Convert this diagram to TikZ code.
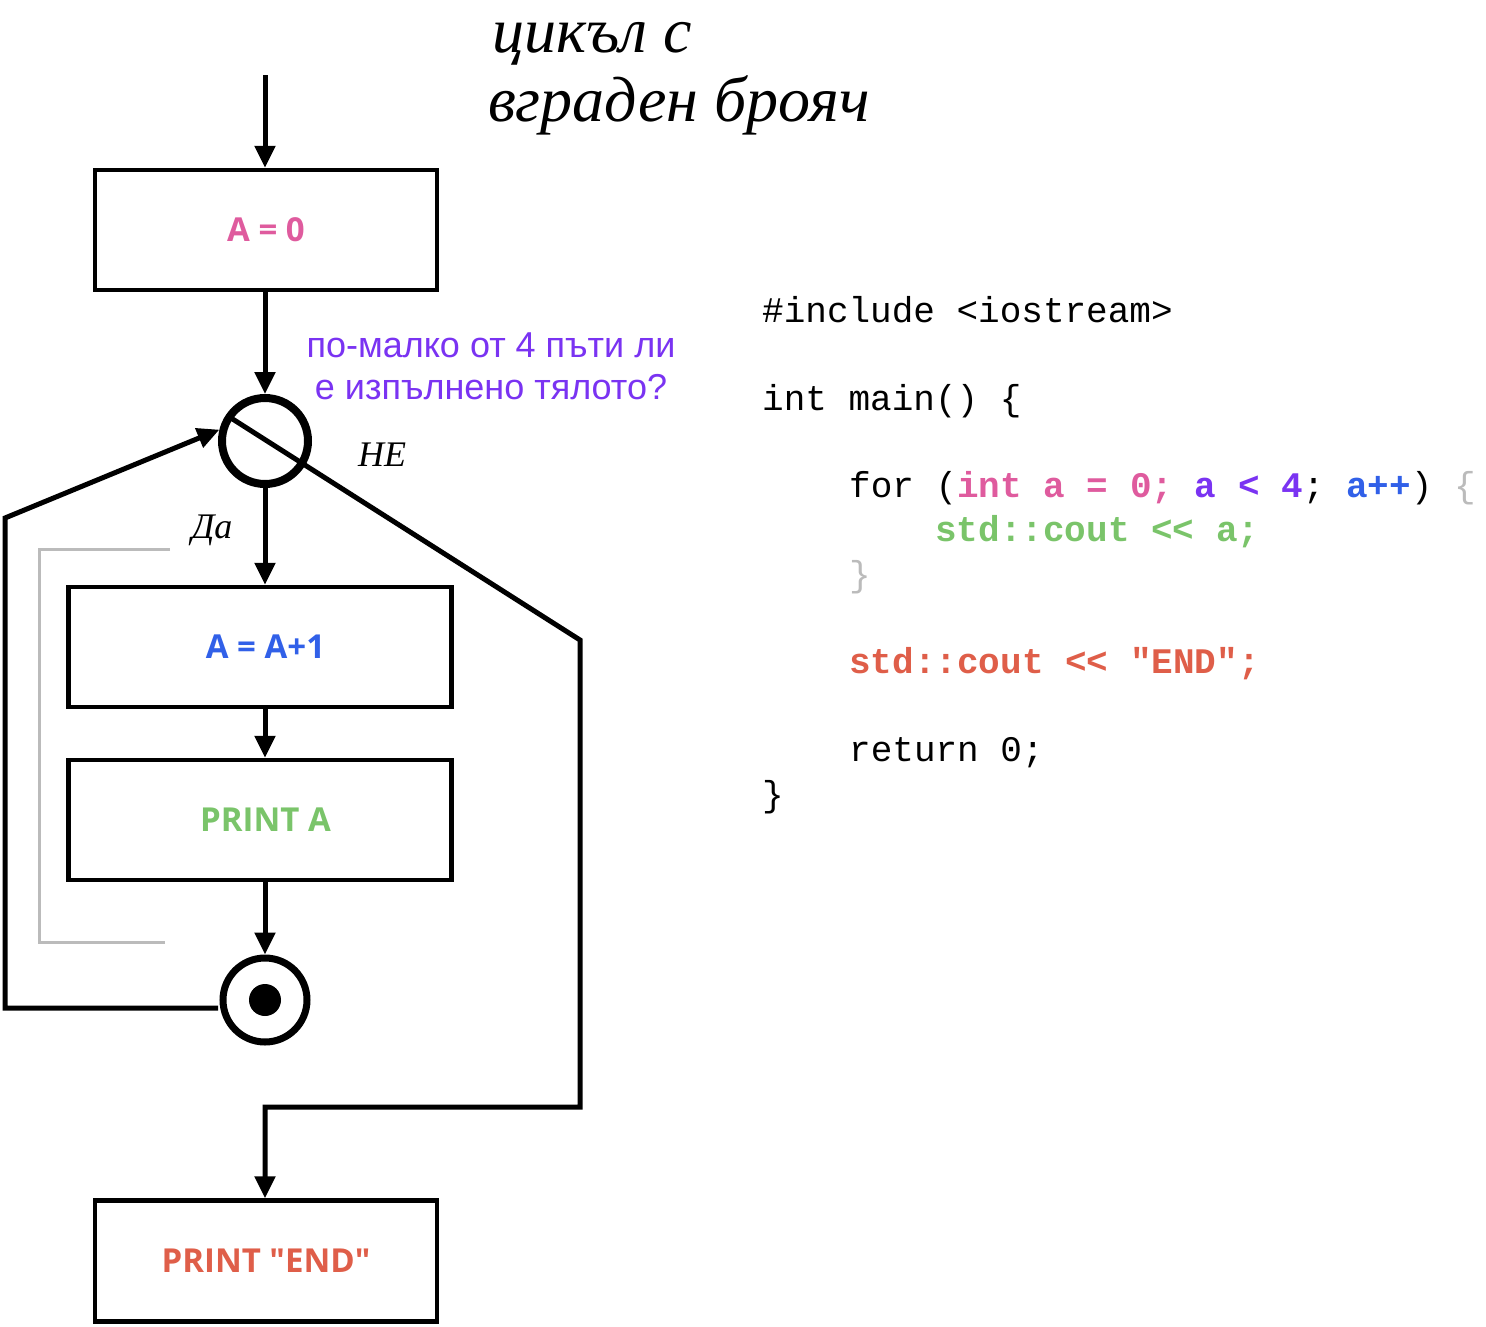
\documentclass[tikz,border=0pt]{standalone}
\usepackage{fontspec}
\setmainfont{Open Sans}
\setmonofont{Liberation Mono}
\newfontfamily\handfont{Liberation Serif}
\newfontfamily\labelfont{Liberation Sans}
\usetikzlibrary{arrows.meta,calc}

\definecolor{pinkA}{HTML}{DF5B9E}
\definecolor{blueA}{HTML}{3160E8}
\definecolor{greenA}{HTML}{7AC46A}
\definecolor{redA}{HTML}{DF5E49}
\definecolor{purpleA}{HTML}{7A33F2}
\definecolor{grayA}{HTML}{BBBBBB}

\begin{document}
\begin{tikzpicture}[x=1pt,y=-1pt,
  flowbox/.style={draw, line width=4.5pt, inner sep=0pt,
    font=\fontsize{33}{38}\selectfont\bfseries},
  conn/.style={line width=5pt, -{Triangle[length=22pt,width=20pt]}},
  hand/.style={font=\handfont\itshape\fontsize{36}{40}\selectfont},
  titletext/.style={anchor=base west, inner sep=0pt,
    font=\handfont\itshape\fontsize{64}{70}\selectfont},
  code/.style={anchor=base west, inner sep=0pt,
    font=\ttfamily\fontsize{36}{40}\selectfont},
]
\useasboundingbox (0,0) rectangle (1486,1326);

% title
\node[titletext] (title1) at (492,52) {цикъл с};
\node[titletext] (title2) at (488,121) {вграден брояч};

% flowchart nodes
\coordinate (start) at (265,75);
\node[flowbox, minimum width=342pt, minimum height=120pt, text=pinkA] (init) at (266,230) {A = 0};
\node[circle, draw, line width=8pt, minimum size=86pt, inner sep=0pt] (dec) at (265,441) {};
\node[flowbox, minimum width=383pt, minimum height=120pt, text=blueA] (inc) at (260,647) {\hspace*{11pt}A = A+1};
\node[flowbox, minimum width=383pt, minimum height=120pt, text=greenA] (prt) at (260,820) {\hspace*{11pt}PRINT A};
\node[circle, draw, line width=7pt, minimum size=84pt, inner sep=0pt] (endc) at (265,1000) {};
\fill (endc.center) circle (16pt);
\node[flowbox, minimum width=342pt, minimum height=121pt, text=redA] (fin) at (266,1261)
  {PRINT \textquotedbl END\textquotedbl};

% labels
\node[align=center, text=purpleA, font=\labelfont\fontsize{36}{42}\selectfont] (question) at (491,366)
  {по-малко от 4 пъти ли\\е изпълнено тялото?};
\node[hand] (no) at (382,455) {НЕ};
\node[hand] (yes) at (212,530) {Да};

% body bracket
\draw[grayA, line width=3pt] (170,549) -- (39,549) -- (39,942) -- (165,942);

% connectors
\draw[conn] (start) -- (start |- init.north);
\draw[conn] (init.south -| dec) -- (dec.north);
\draw[conn] (dec.south) -- (dec.south |- inc.north);
\draw[conn] (inc.south -| dec) -- (dec |- prt.north);
\draw[conn] (prt.south -| dec) -- (endc.north);

% exit branch
\coordinate (d0) at (231,418);
\coordinate (d1) at (580,640);
\coordinate (d2) at (580,1107);
\coordinate (d3) at (265,1107);
\draw[conn] (d0) -- (d1) -- (d2) -- (d3) -- (d3 |- fin.north);

% loop back
\coordinate (l0) at (218,1008);
\coordinate (l1) at (5,1008);
\coordinate (l2) at (5,518);
\draw[conn] (l0) -- (l1) -- (l2) -- (dec.166);

% source code
\node[code] (c1) at (762,322) {\#include <iostream>};
\node[code] (c2) at (762,410) {int main() \{};
\node[code] (c3) at (849,497) {for (\textcolor{pinkA}{\bfseries int a = 0;} \textcolor{purpleA}{\bfseries a < 4}; \textcolor{blueA}{\bfseries a++}) \textcolor{grayA}{\{}};
\node[code, text=greenA] (c4) at (935,541) {\bfseries std::cout << a;};
\node[code, text=grayA] (c5) at (849,586) {\}};
\node[code, text=redA] (c6) at (849,673) {\bfseries std::cout << "END";};
\node[code] (c7) at (849,761) {return 0;};
\node[code] (c8) at (762,806) {\}};
\end{tikzpicture}
\end{document}
